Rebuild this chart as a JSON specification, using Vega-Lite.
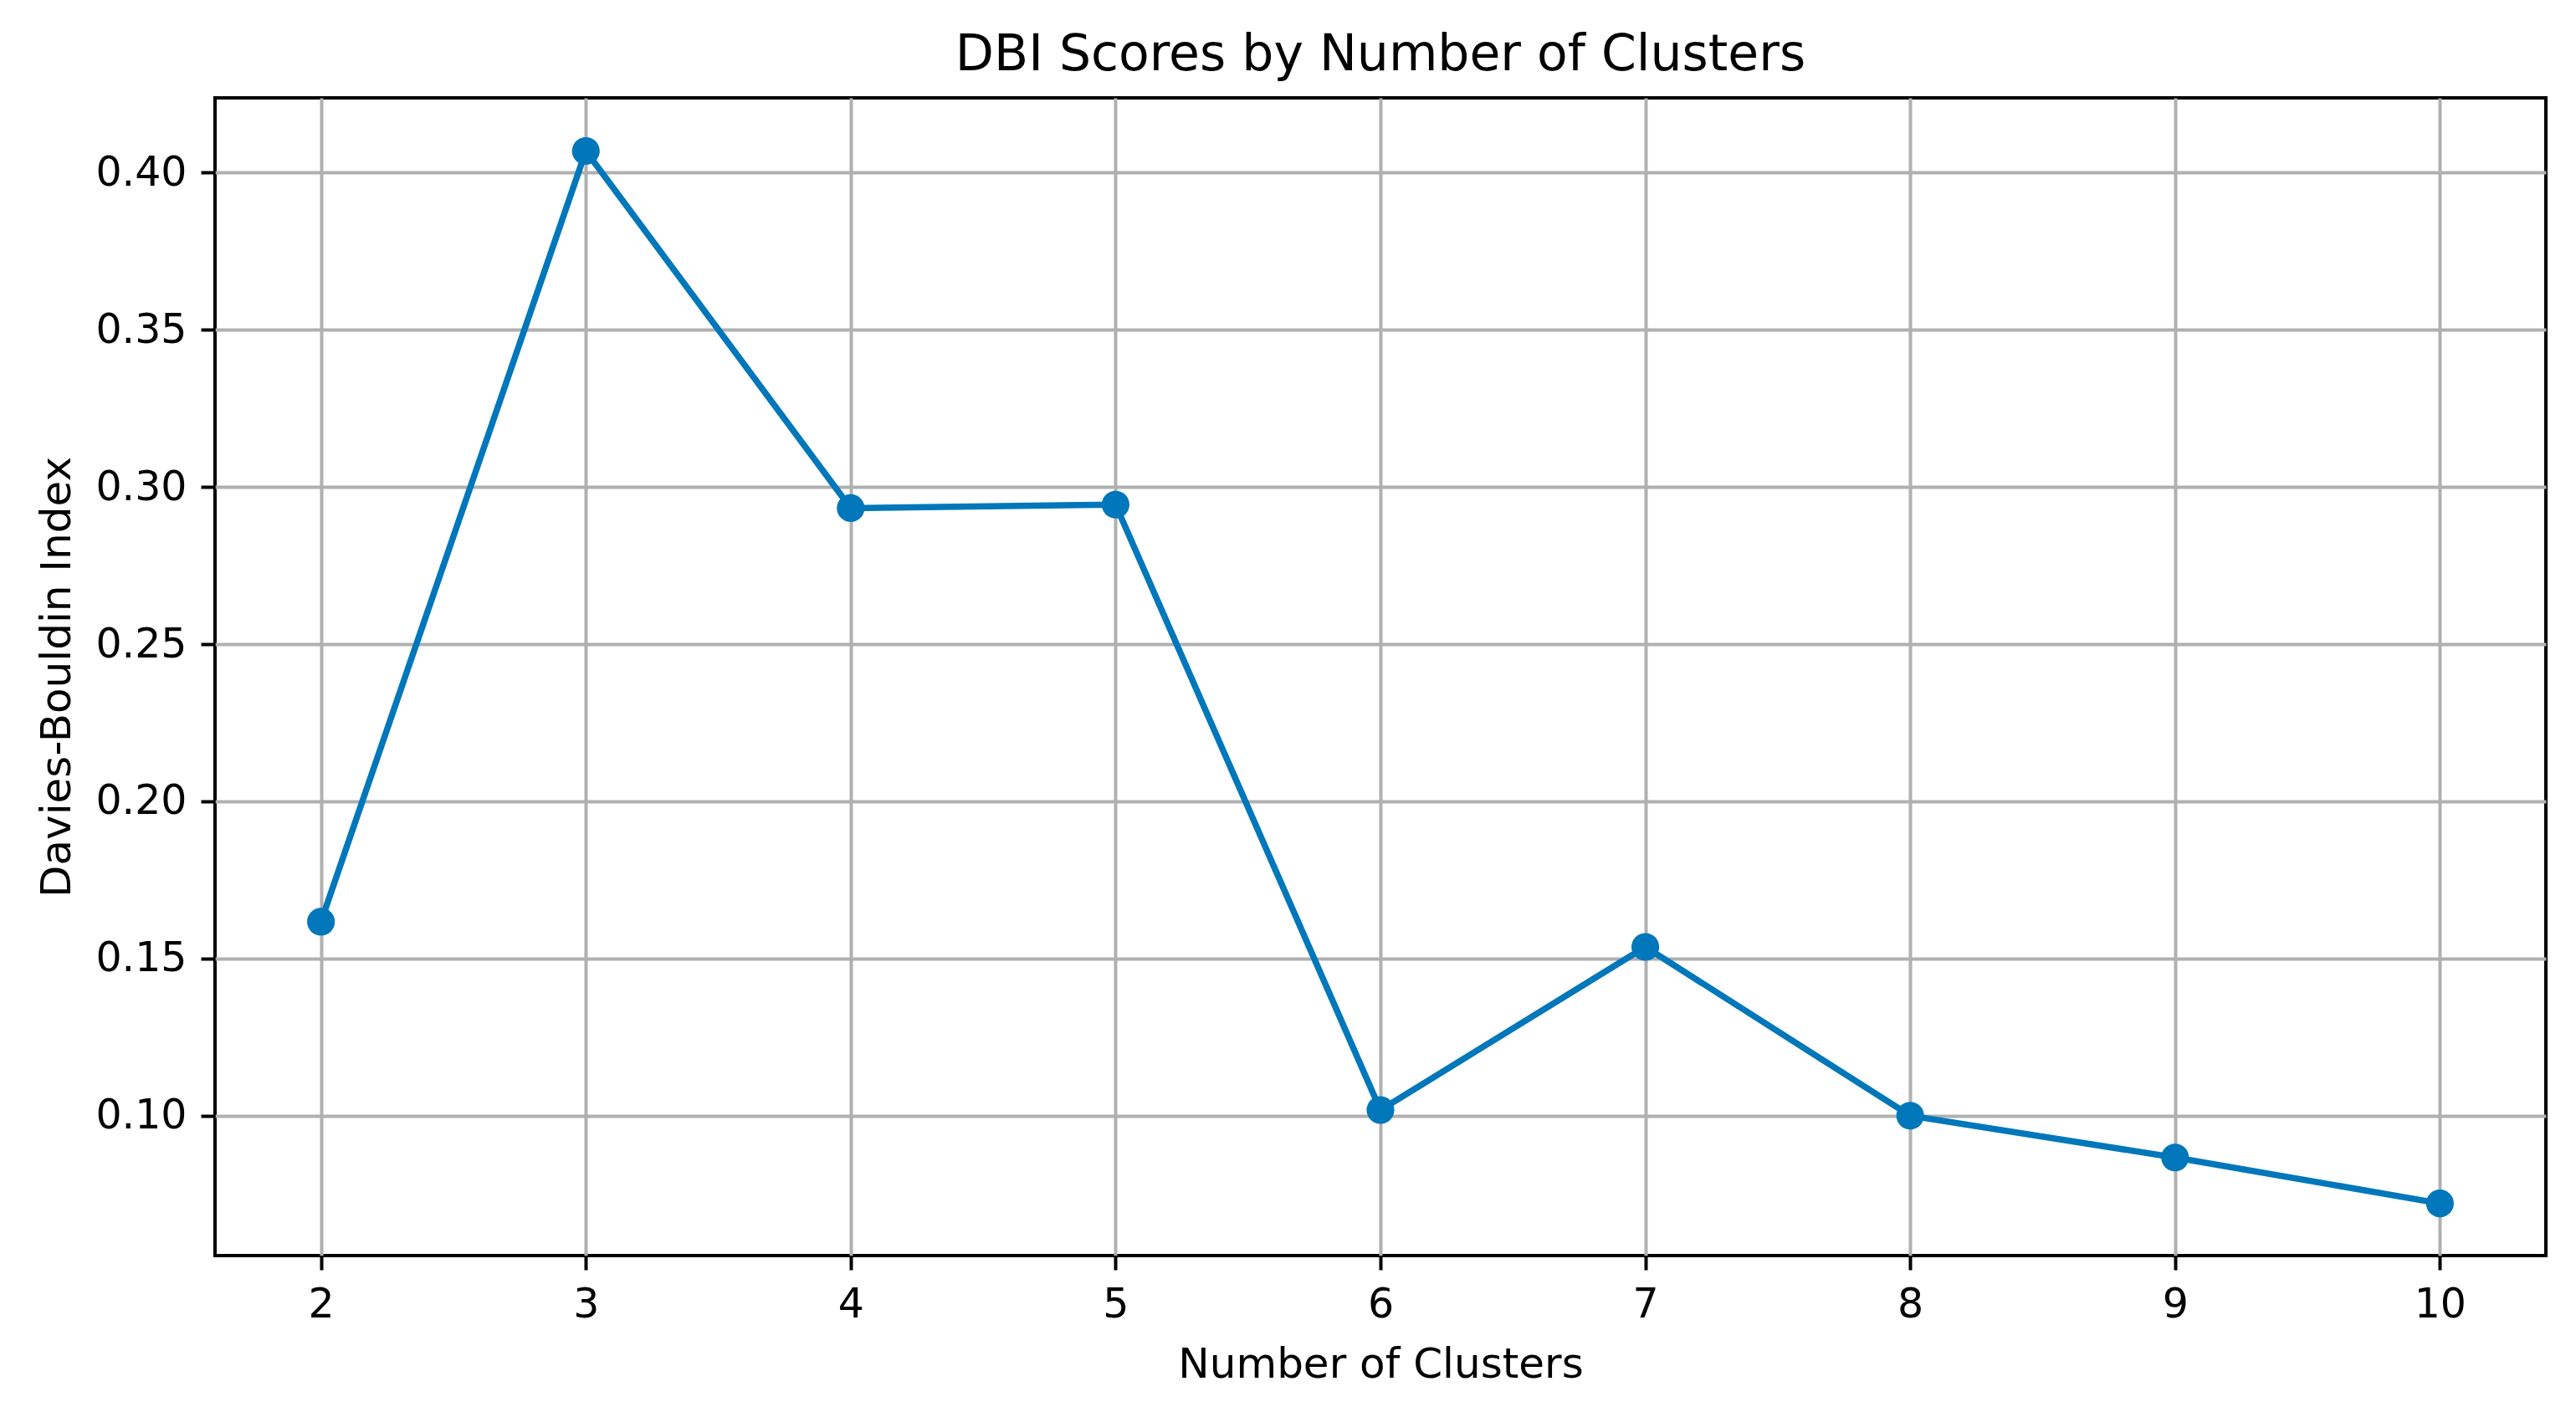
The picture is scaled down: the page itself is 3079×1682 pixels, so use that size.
{
  "$schema": "https://vega.github.io/schema/vega-lite/v6.json",
  "width": 2786,
  "height": 1384,
  "autosize": {"type": "none"},
  "padding": {"left": 257, "top": 117, "right": 36, "bottom": 181},
  "background": "white",
  "config": {
    "font": "DejaVu Sans",
    "view": {"stroke": "black", "strokeWidth": 4},
    "axis": {
      "domain": false,
      "grid": true,
      "gridColor": "#b0b0b0",
      "gridWidth": 4,
      "tickColor": "black",
      "tickWidth": 4,
      "tickSize": 17,
      "labelPadding": 17,
      "labelFont": "DejaVu Sans",
      "labelFontSize": 49,
      "labelColor": "black",
      "titleFont": "DejaVu Sans",
      "titleFontSize": 50,
      "titleFontWeight": "normal",
      "titleColor": "black"
    }
  },
  "title": {
    "text": "DBI Scores by Number of Clusters",
    "font": "DejaVu Sans",
    "fontSize": 60,
    "fontWeight": "normal",
    "color": "black",
    "anchor": "middle",
    "offset": 20
  },
  "data": {
    "values": [
      {"k": 2, "dbi": 0.1617},
      {"k": 3, "dbi": 0.4069},
      {"k": 4, "dbi": 0.2933},
      {"k": 5, "dbi": 0.2944},
      {"k": 6, "dbi": 0.1018},
      {"k": 7, "dbi": 0.1537},
      {"k": 8, "dbi": 0.1000},
      {"k": 9, "dbi": 0.0867},
      {"k": 10, "dbi": 0.0721}
    ]
  },
  "encoding": {
    "x": {
      "field": "k",
      "type": "quantitative",
      "scale": {"domain": [1.6, 10.4], "nice": false, "zero": false},
      "axis": {"title": "Number of Clusters", "values": [2, 3, 4, 5, 6, 7, 8, 9, 10], "format": "d", "titlePadding": 22, "labelFlush": false}
    },
    "y": {
      "field": "dbi",
      "type": "quantitative",
      "scale": {"domain": [0.0555, 0.4238], "nice": false, "zero": false},
      "axis": {"title": "Davies-Bouldin Index", "values": [0.10, 0.15, 0.20, 0.25, 0.30, 0.35, 0.40], "format": ".2f", "titlePadding": 20, "labelFlush": false}
    }
  },
  "layer": [
    {"mark": {"type": "line", "color": "#0077bb", "strokeWidth": 7.5}},
    {"mark": {"type": "point", "filled": true, "shape": "circle", "color": "#0077bb", "size": 1100, "opacity": 1}}
  ]
}
